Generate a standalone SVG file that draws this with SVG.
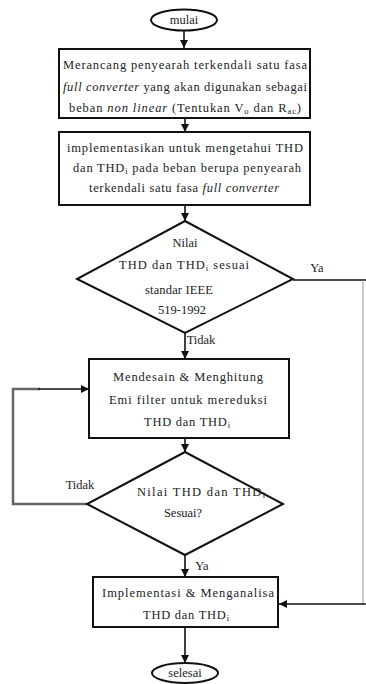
<svg xmlns="http://www.w3.org/2000/svg" width="366" height="684" viewBox="0 0 366 684">
<style>
.n{fill:#fff;stroke:#111;stroke-width:2}
.t{font-family:"Liberation Serif","Times New Roman",serif;font-size:12.5px;fill:#222;text-anchor:middle}
.i{font-style:italic}
.s{font-size:8.5px}
.c{fill:none;stroke:#111;stroke-width:1.6}
.g{fill:none;stroke:#666;stroke-width:2.5}
.l{fill:none;stroke:#999;stroke-width:1}
</style>
<defs>
<marker id="a" viewBox="0 0 10 10" refX="10" refY="5" markerWidth="5" markerHeight="5" orient="auto" markerUnits="strokeWidth">
<path d="M0,0 L10,5 L0,10 z" fill="#111"/>
</marker>
</defs>
<rect width="366" height="684" fill="#fff"/>
<g id="connectors">
<line class="c" x1="184" y1="31" x2="184" y2="48" marker-end="url(#a)"/>
<line class="c" x1="185" y1="118" x2="185" y2="132" marker-end="url(#a)"/>
<line class="c" x1="185" y1="205" x2="185" y2="221" marker-end="url(#a)"/>
<line class="c" x1="185" y1="333" x2="185" y2="359" marker-end="url(#a)"/>
<line class="c" x1="185" y1="438" x2="185" y2="452" marker-end="url(#a)"/>
<line class="c" x1="185" y1="555" x2="185" y2="577" marker-end="url(#a)"/>
<line class="c" x1="185" y1="627" x2="185" y2="663" marker-end="url(#a)"/>
<line class="c" x1="293" y1="280" x2="366" y2="280"/>
<line class="l" x1="363" y1="280" x2="363" y2="604"/>
<line class="c" x1="366" y1="604" x2="279" y2="604" marker-end="url(#a)"/>
<polyline class="g" points="87,504 13,504 13,389 40,389"/>
<line class="c" x1="38" y1="389" x2="89" y2="389" marker-end="url(#a)"/>
<text class="t" x="317" y="272" font-size="10.5">Ya</text>
<text class="t" x="201" y="344" font-size="10.5">Tidak</text>
<text class="t" x="80" y="489" font-size="10.5">Tidak</text>
<text class="t" x="202" y="570" font-size="10.5">Ya</text>
</g>
<g id="start">
<ellipse class="n" cx="184" cy="20" rx="33" ry="10.5"/>
<text class="t" x="184" y="24" font-size="10.5">mulai</text>
</g>
<g id="box1">
<rect class="n" x="59" y="49" width="251" height="69"/>
<text class="t" x="185" y="69" textLength="244">Merancang penyearah terkendali satu fasa</text>
<text class="t" x="185" y="91" textLength="244"><tspan class="i">full converter</tspan> yang akan digunakan sebagai</text>
<text class="t" x="185" y="112" textLength="232">beban <tspan class="i">non linear</tspan> (Tentukan V<tspan class="s" dy="2">o</tspan><tspan dy="-2"> dan R</tspan><tspan class="s" dy="2">ac</tspan><tspan dy="-2">)</tspan></text>
</g>
<g id="box2">
<rect class="n" x="59" y="132" width="251" height="73"/>
<text class="t" x="185" y="152" textLength="236">implementasikan untuk mengetahui THD</text>
<text class="t" x="187" y="172" textLength="228">dan THD<tspan class="s" dy="2">i</tspan><tspan dy="-2"> pada beban berupa penyearah</tspan></text>
<text class="t" x="184" y="192" textLength="190">terkendali satu fasa <tspan class="i">full converter</tspan></text>
</g>
<g id="decision1">
<polygon class="n" points="185,221 293,279 185,333 77,279"/>
<text class="t" x="185" y="247">Nilai</text>
<text class="t" x="184" y="269" textLength="130">THD dan THD<tspan class="s" dy="2">i</tspan><tspan dy="-2"> sesuai</tspan></text>
<text class="t" x="179" y="294" textLength="68">standar IEEE</text>
<text class="t" x="182" y="314">519-1992</text>
</g>
<g id="box3">
<rect class="n" x="89" y="359" width="200" height="79"/>
<text class="t" x="188" y="381" textLength="150">Mendesain &amp; Menghitung</text>
<text class="t" x="188" y="404" textLength="158">Emi filter untuk mereduksi</text>
<text class="t" x="187" y="426" textLength="86">THD dan THD<tspan class="s" dy="2">i</tspan></text>
</g>
<g id="decision2">
<polygon class="n" points="185,452 283,504 185,555 87,504"/>
<text class="t" x="201" y="496" textLength="128">Nilai THD dan THD<tspan class="s" dy="2">i</tspan></text>
<text class="t" x="183" y="517">Sesuai?</text>
</g>
<g id="box4">
<rect class="n" x="93" y="577" width="185" height="50"/>
<text class="t" x="188" y="597" textLength="172">Implementasi &amp; Menganalisa</text>
<text class="t" x="186" y="619" textLength="86">THD dan THD<tspan class="s" dy="2">i</tspan></text>
</g>
<g id="end">
<ellipse class="n" cx="185" cy="673" rx="33" ry="10"/>
<text class="t" x="185" y="677" font-size="10.5">selesai</text>
</g>
</svg>
